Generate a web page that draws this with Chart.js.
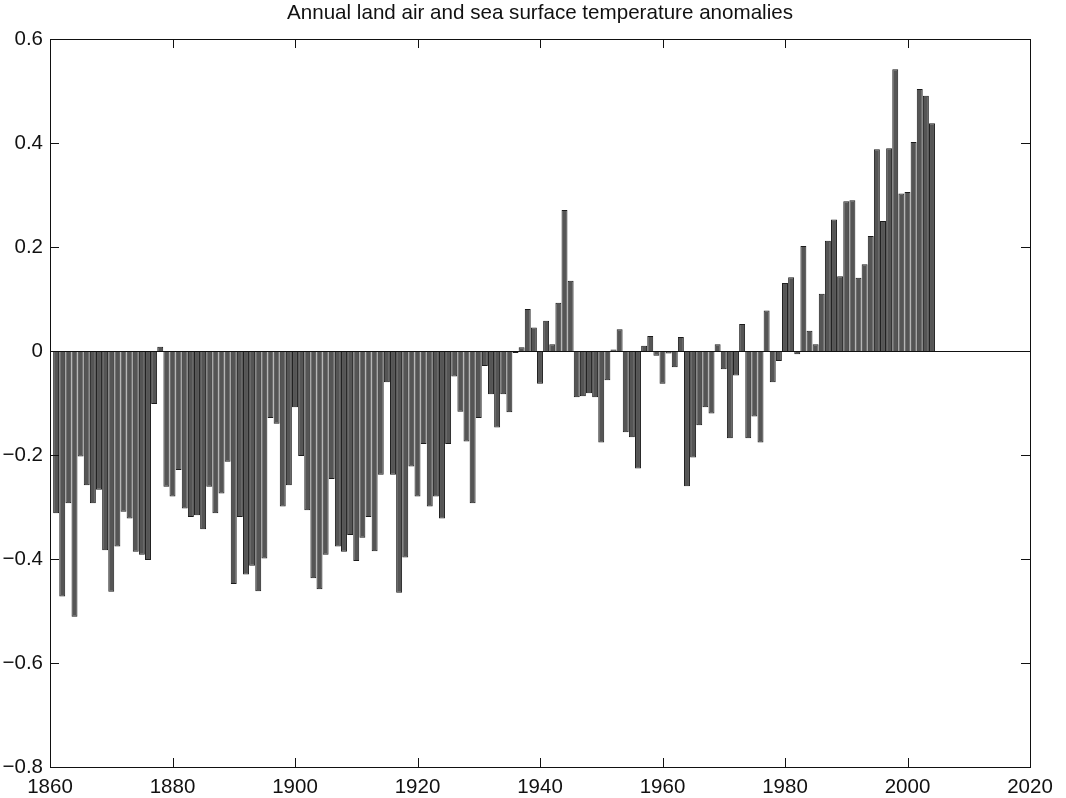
<!DOCTYPE html>
<html>
<head>
<meta charset="utf-8">
<title>Annual land air and sea surface temperature anomalies</title>
<script src="https://cdn.jsdelivr.net/npm/chart.js@4.4.1/dist/chart.umd.min.js"></script>
<style>
  html, body { margin: 0; padding: 0; background: #ffffff; }
  canvas { display: block; }
</style>
</head>
<body>
<canvas id="chart" width="1066" height="798"></canvas>
<script>
// Global annual anomalies (deg C), one value per year from 1861 to 2004
const years = [];
for (let y = 1861; y <= 2004; y++) years.push(y);

const anomalies = [
  // 1861-1870
  -0.312, -0.472, -0.293, -0.511, -0.203, -0.258, -0.293, -0.267, -0.383, -0.463,
  // 1871-1880
  -0.376, -0.309, -0.322, -0.386, -0.392, -0.402, -0.102, 0.008, -0.261, -0.280,
  // 1881-1890
  -0.229, -0.303, -0.319, -0.316, -0.343, -0.261, -0.312, -0.274, -0.213, -0.448,
  // 1891-1900
  -0.319, -0.430, -0.413, -0.462, -0.399, -0.129, -0.140, -0.299, -0.258, -0.108,
  // 1901-1910
  -0.202, -0.306, -0.437, -0.458, -0.392, -0.246, -0.376, -0.386, -0.354, -0.404,
  // 1911-1920
  -0.359, -0.319, -0.385, -0.238, -0.060, -0.238, -0.465, -0.397, -0.222, -0.280,
  // 1921-1930
  -0.179, -0.299, -0.280, -0.322, -0.179, -0.049, -0.117, -0.174, -0.293, -0.129,
  // 1931-1940
  -0.029, -0.083, -0.147, -0.083, -0.118, -0.004, 0.007, 0.081, 0.045, -0.063,
  // 1941-1950
  0.058, 0.013, 0.093, 0.271, 0.135, -0.089, -0.087, -0.081, -0.089, -0.176,
  // 1951-1960
  -0.056, 0.003, 0.042, -0.156, -0.166, -0.226, 0.010, 0.029, -0.009, -0.063,
  // 1961-1970
  -0.005, -0.031, 0.027, -0.260, -0.205, -0.143, -0.108, -0.120, 0.013, -0.035,
  // 1971-1980
  -0.168, -0.047, 0.052, -0.168, -0.126, -0.176, 0.078, -0.060, -0.019, 0.131,
  // 1981-1990
  0.142, -0.006, 0.202, 0.039, 0.013, 0.110, 0.212, 0.253, 0.144, 0.288,
  // 1991-2000
  0.290, 0.141, 0.167, 0.221, 0.388, 0.250, 0.390, 0.542, 0.303, 0.306,
  // 2001-2004
  0.402, 0.504, 0.491, 0.438
];

// Axis ranges and tick spacing
const xTicks = [1860, 1880, 1900, 1920, 1940, 1960, 1980, 2000, 2020];
const yTicks = [-0.8, -0.6, -0.4, -0.2, 0, 0.2, 0.4, 0.6];

const titleText = 'Annual land air and sea surface temperature anomalies';
const FONT = "'Liberation Sans', Arial, Helvetica, sans-serif";

function formatY(v) {
  if (Math.abs(v) < 1e-9) return '0';
  return (v < 0 ? '\u2212' : '') + Math.abs(v).toFixed(1);
}

// Box frame, inward tick marks on all four sides and the zero baseline
const framePlugin = {
  id: 'frame',
  afterDatasetsDraw(chart) {
    const { ctx, chartArea: a, scales } = chart;
    const tick = 9;
    ctx.save();
    ctx.strokeStyle = '#111111';
    ctx.lineWidth = 1;

    // zero baseline
    const y0 = Math.round(scales.y.getPixelForValue(0)) + 0.5;
    ctx.beginPath();
    ctx.moveTo(a.left, y0);
    ctx.lineTo(a.right, y0);
    ctx.stroke();

    // frame
    ctx.strokeRect(Math.round(a.left) + 0.5, Math.round(a.top) + 0.5,
                   Math.round(a.right - a.left), Math.round(a.bottom - a.top));

    ctx.beginPath();
    xTicks.forEach(v => {
      const px = Math.round(scales.x.getPixelForValue(v)) + 0.5;
      ctx.moveTo(px, a.bottom); ctx.lineTo(px, a.bottom - tick);
      ctx.moveTo(px, a.top);    ctx.lineTo(px, a.top + tick);
    });
    yTicks.forEach(v => {
      const py = Math.round(scales.y.getPixelForValue(v)) + 0.5;
      ctx.moveTo(a.left, py);  ctx.lineTo(a.left + tick, py);
      ctx.moveTo(a.right, py); ctx.lineTo(a.right - tick, py);
    });
    ctx.stroke();
    ctx.restore();
  }
};

new Chart(document.getElementById('chart'), {
  type: 'bar',
  data: {
    datasets: [{
      label: 'Anomaly',
      data: years.map((yr, i) => ({ x: yr, y: anomalies[i] })),
      backgroundColor: '#555555',
      borderColor: '#1c1c1c',
      borderWidth: 1,
      barPercentage: 0.97,
      categoryPercentage: 1.0
    }]
  },
  options: {
    responsive: false,
    animation: false,
    devicePixelRatio: 1,
    layout: { padding: { left: 0, right: 36, top: 0, bottom: 0 } },
    plugins: {
      legend: { display: false },
      tooltip: { enabled: false },
      title: {
        display: true,
        text: titleText,
        fullSize: false,
        color: '#111111',
        font: { family: FONT, size: 20.6, weight: 'normal', lineHeight: 1.2 },
        padding: { top: 1, bottom: 13.3 }
      }
    },
    scales: {
      x: {
        type: 'linear',
        min: 1860,
        max: 2020,
        offset: false,
        grid: { display: false, drawTicks: false },
        border: { display: false },
        afterBuildTicks(scale) { scale.ticks = xTicks.map(v => ({ value: v })); },
        afterFit(scale) { scale.height = 31; },
        ticks: {
          color: '#111111',
          font: { family: FONT, size: 20.5 },
          padding: 8,
          maxRotation: 0,
          autoSkip: false,
          callback: v => String(v)
        }
      },
      y: {
        min: -0.8,
        max: 0.6,
        grid: { display: false, drawTicks: false },
        border: { display: false },
        afterBuildTicks(scale) { scale.ticks = yTicks.map(v => ({ value: v })); },
        afterFit(scale) { scale.width = 50; },
        ticks: {
          color: '#111111',
          font: { family: FONT, size: 20.5 },
          padding: 7,
          autoSkip: false,
          callback: v => formatY(v)
        }
      }
    }
  },
  plugins: [framePlugin]
});
</script>
</body>
</html>
